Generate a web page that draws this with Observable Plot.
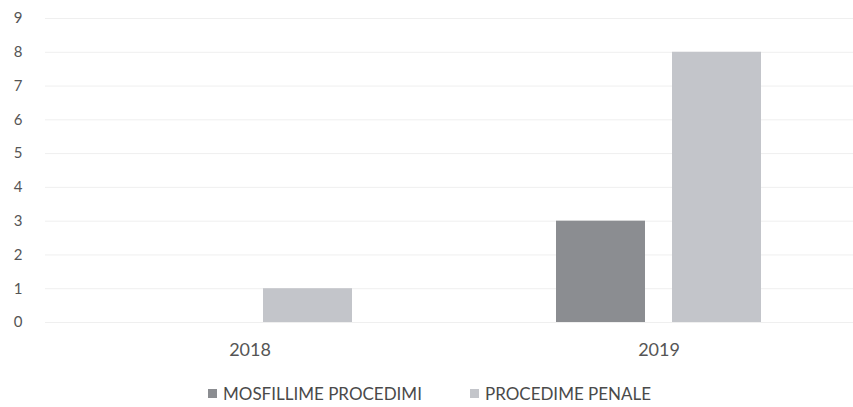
<!DOCTYPE html>
<html><head><meta charset="utf-8">
<script src="https://cdn.jsdelivr.net/npm/d3@7"></script>
<script src="https://cdn.jsdelivr.net/npm/@observablehq/plot@0.6"></script>
<style>
body{margin:0;background:#fff;font-family:Lato,"Open Sans",sans-serif;}
#legend{display:flex;justify-content:flex-start;font-size:17px;color:#4a4a4a;margin-left:208px;margin-top:11px;}
.item{display:flex;align-items:center;margin-right:48px;}
.sw{width:9px;height:9px;margin-right:6px;display:inline-block;}
</style></head>
<body>
<div id="chart"></div>
<div id="legend"></div>
<script>
const years = ["2018", "2019"];
const series = ["MOSFILLIME PROCEDIMI", "PROCEDIME PENALE"];
const mosfillime = [0, 3];
const penale = [1, 8];
const colors = ["#8b8d91", "#c3c5ca"];
const yTicks = [0,1,2,3,4,5,6,7,8,9];

const data = [];
years.forEach((y, i) => {
  data.push({year: y, series: series[0], value: mosfillime[i]});
  data.push({year: y, series: series[1], value: penale[i]});
});

const chart = Plot.plot({
  width: 853,
  height: 372,
  marginTop: 18,
  marginBottom: 50,
  marginLeft: 44,
  marginRight: 0,
  style: {fontFamily: "Lato, 'Open Sans', sans-serif", fontSize: "15px", color: "#555"},
  fx: {domain: years, range: [44, 863], padding: 0, label: null},
  x: {domain: series, paddingInner: 0.23, paddingOuter: 0.865, axis: null},
  y: {domain: [0, 9], label: null},
  color: {domain: series, range: colors},
  marks: [
    Plot.gridY(yTicks, {stroke: "#efefef", strokeOpacity: 1, facetAnchor: null}),
    Plot.barY(data, {fx: "year", x: "series", y: "value", fill: "series"}),
    Plot.axisY(yTicks, {tickSize: 0, tickPadding: 23, label: null, fill: "#555", fontSize: 15}),
    Plot.axisFx({anchor: "bottom", tickSize: 0, tickPadding: 21, label: null, fill: "#555", fontSize: 18})
  ]
});
document.getElementById("chart").appendChild(chart);

const leg = document.getElementById("legend");
series.forEach((s, i) => {
  const it = document.createElement("div");
  it.className = "item";
  it.innerHTML = `<span class="sw" style="background:${colors[i]}"></span>${s}`;
  leg.appendChild(it);
});
</script>
</body></html>
